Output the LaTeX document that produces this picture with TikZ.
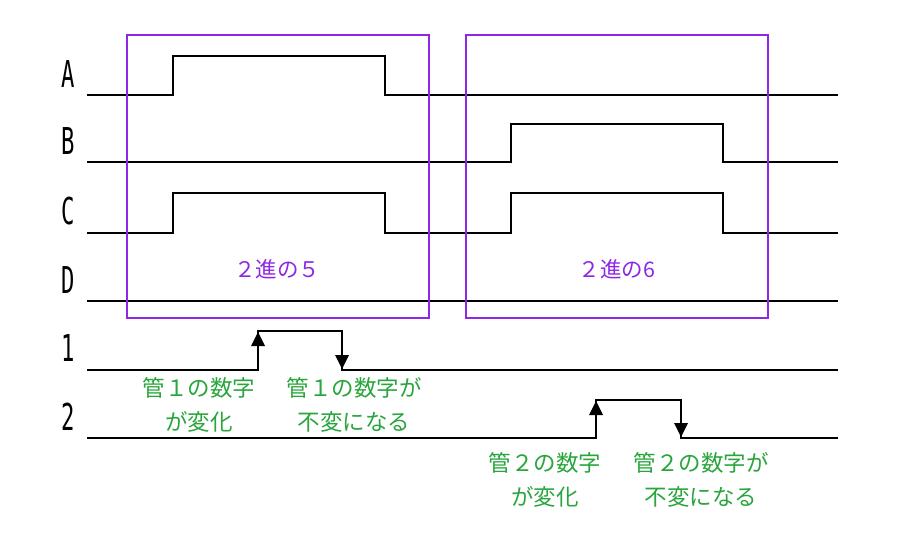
\documentclass[tikz,border=0pt]{standalone}
\usepackage{fontspec}
\newfontfamily\jp{Noto Sans CJK JP}
\newfontfamily\labfont{DejaVu Sans Mono}
\usetikzlibrary{arrows.meta}
\definecolor{vio}{RGB}{140,40,230}
\definecolor{grn}{RGB}{40,165,60}
\begin{document}
\begin{tikzpicture}[x=1pt,y=-1pt,
  sig/.style={line width=2.8pt, line join=miter},
  frame/.style={draw=vio, line width=1.8pt},
  lab/.style={font=\labfont\fontsize{37}{37}\selectfont, xscale=0.6, inner sep=0pt},
  note/.style={text=grn, align=center, font=\jp\fontsize{22.5}{34}\selectfont, inner sep=0pt},
  bin/.style={text=vio, font=\jp\fontsize{21.5}{24}\selectfont, inner sep=0pt},
  tip/.style={fill=black}]
\useasboundingbox (0,0) rectangle (900,540);
% labels
\node[lab] (lA) at (68,74) {A};
\node[lab] (lB) at (68,141) {B};
\node[lab] (lC) at (68,211) {C};
\node[lab] (lD) at (68,280) {D};
\node[lab] (l1) at (68,348) {1};
\node[lab] (l2) at (68,417) {2};
% signals
\draw[sig] (87,95) -- (173,95) -- (173,56) -- (385,56) -- (385,95) -- (838,95);
\draw[sig] (87,162) -- (511,162) -- (511,124) -- (723,124) -- (723,162) -- (838,162);
\draw[sig] (87,233) -- (173,233) -- (173,193) -- (385,193) -- (385,233) -- (511,233) -- (511,193) -- (723,193) -- (723,233) -- (838,233);
\draw[sig] (87,301) -- (838,301);
\draw[sig] (87,370) -- (258,370) -- (258,331) -- (342,331) -- (342,370) -- (838,370);
\draw[sig] (87,438) -- (596,438) -- (596,400) -- (681,400) -- (681,438) -- (838,438);
% arrow heads
\fill[tip] (251,346) -- (265,346) -- (258,332) -- cycle;
\fill[tip] (335,355) -- (349,355) -- (342,369) -- cycle;
\fill[tip] (589,415) -- (603,415) -- (596,401) -- cycle;
\fill[tip] (674,423) -- (688,423) -- (681,437) -- cycle;
% frames
\draw[frame] (127,35) rectangle (429,318);
\draw[frame] (466,35) rectangle (768,318);
\node[bin] (b5) at (277,269) {２進の５};
\node[bin] (b6) at (617,269) {２進の6};
% notes
\node[note] (n1a) at (199,405) {管１の数字\\が変化};
\node[note] (n1b) at (354,405) {管１の数字が\\不変になる};
\node[note] (n2a) at (545,480) {管２の数字\\が変化};
\node[note] (n2b) at (701,480) {管２の数字が\\不変になる};
\end{tikzpicture}
\end{document}
